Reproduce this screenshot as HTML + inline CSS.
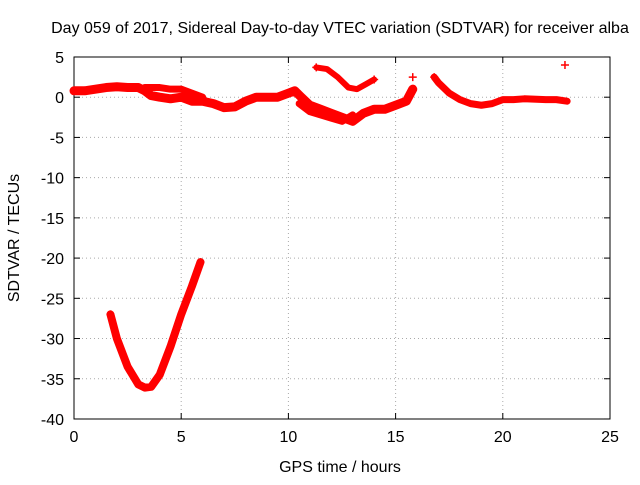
<!DOCTYPE html>
<html><head><meta charset="utf-8"><style>
body{margin:0;background:#fff}
svg text{font-family:"Liberation Sans",sans-serif;font-size:16px;fill:#000}
</style></head><body>
<svg width="640" height="480">
<g id="grid"></g>
<g id="ax"></g>
<g id="series"></g>
<text x="340" y="33" text-anchor="middle">Day 059 of 2017, Sidereal Day-to-day VTEC variation (SDTVAR) for receiver alba</text>
<text x="340" y="472" text-anchor="middle">GPS time / hours</text>
<text x="0" y="0" transform="translate(19,238) rotate(-90)" text-anchor="middle">SDTVAR / TECUs</text>
</svg>
<script>
const xTicks=[0,5,10,15,20,25];
const yTicks=[5,0,-5,-10,-15,-20,-25,-30,-35,-40];
const bandMain=[[0,0.8],[0.5,0.8],[1,1],[1.5,1.2],[2,1.3],[2.5,1.2],[3,1.2],[3.3,0.8],[3.6,0.2],[4,0],[4.5,-0.2],[5,0],[5.5,-0.5],[6,-0.5],[6.5,-0.8],[7,-1.3],[7.5,-1.2],[8,-0.5],[8.5,0],[9,0],[9.5,0],[10,0.5],[10.3,0.8],[10.6,0],[11,-1],[11.5,-1.5],[12,-2],[12.5,-2.5],[13,-3],[13.5,-2],[14,-1.5],[14.5,-1.5],[15,-1],[15.5,-0.5],[15.8,1]];
const bandUpper=[[3.3,1.2],[4,1.2],[4.5,1],[5,1],[5.5,0.5],[6,0]];
const bandLower=[[10.5,-0.8],[11,-1.8],[11.5,-2.2],[12,-2.6],[12.5,-3],[13,-2.2]];
const arcMid=[[11.3,3.7],[11.8,3.5],[12.3,2.5],[12.8,1.2],[13.2,1],[13.6,1.6],[14,2.2]];
const bandLate=[[16.8,2.5],[17,1.8],[17.5,0.5],[18,-0.3],[18.5,-0.8],[19,-1],[19.5,-0.8],[20,-0.3],[20.5,-0.3],[21,-0.2],[22,-0.3],[22.5,-0.3],[23,-0.5]];
const arcLow=[[1.7,-27],[2,-30],[2.5,-33.5],[3,-35.7],[3.3,-36.1],[3.6,-36],[4,-34.5],[4.5,-31],[5,-27],[5.5,-23.5],[5.9,-20.5]];
const singles=[[15.8,2.5],[16.8,2.5],[22.9,4],[11.3,3.7],[14,2.2],[1.7,-27],[5.9,-20.5]];
const X=v=>74+v*(536/25), Y=v=>97.2-v*(362/45);
const NS="http://www.w3.org/2000/svg";
function mk(p,t,a){const e=document.createElementNS(NS,t);for(const k in a)e.setAttribute(k,a[k]);p.appendChild(e);return e;}
const g=document.getElementById('grid'),ax=document.getElementById('ax'),s=document.getElementById('series');
xTicks.forEach(t=>{
 if(t>0&&t<25){const l=mk(g,'line',{x1:X(t),x2:X(t),y1:57,y2:419,stroke:'#aaa','stroke-dasharray':'1,3'});
 }
 mk(ax,'line',{x1:X(t),x2:X(t),y1:419,y2:413,stroke:'#000'});mk(ax,'line',{x1:X(t),x2:X(t),y1:57,y2:63,stroke:'#000'});
 const tx=mk(ax,'text',{x:X(t),y:442,'text-anchor':'middle'});tx.textContent=t;
 
});
yTicks.forEach(t=>{
 if(t<5&&t>-40){const l=mk(g,'line',{x1:74,x2:610,y1:Y(t),y2:Y(t),stroke:'#aaa','stroke-dasharray':'1,3'});
 }
 mk(ax,'line',{x1:74,x2:80,y1:Y(t),y2:Y(t),stroke:'#000'});mk(ax,'line',{x1:604,x2:610,y1:Y(t),y2:Y(t),stroke:'#000'});
 const tx=mk(ax,'text',{x:64,y:Y(t)+6,'text-anchor':'end'});tx.textContent=t;
 
});
const box=mk(ax,'rect',{x:74,y:57,width:536,height:362,fill:'none',stroke:'#000'});

function band(d,w,name){
 const p=mk(s,'polyline',{points:d.map(q=>X(q[0])+','+Y(q[1])).join(' '),fill:'none',stroke:'#f00','stroke-width':w,'stroke-linejoin':'round','stroke-linecap':'round'});
 
}
band(bandMain,9,'series-main-band');band(bandUpper,7,'series-upper-band');band(bandLower,7,'series-lower-band');
band(arcMid,6,'series-mid-arc');band(bandLate,7,'series-late-band');band(arcLow,8,'series-low-arc');
singles.forEach(q=>{const x=X(q[0]),y=Y(q[1]);
 const p=mk(s,'path',{d:`M${x-4},${y}H${x+4}M${x},${y-4}V${y+4}`,stroke:'#f00','stroke-width':1.5});
 });
</script>
</body></html>
